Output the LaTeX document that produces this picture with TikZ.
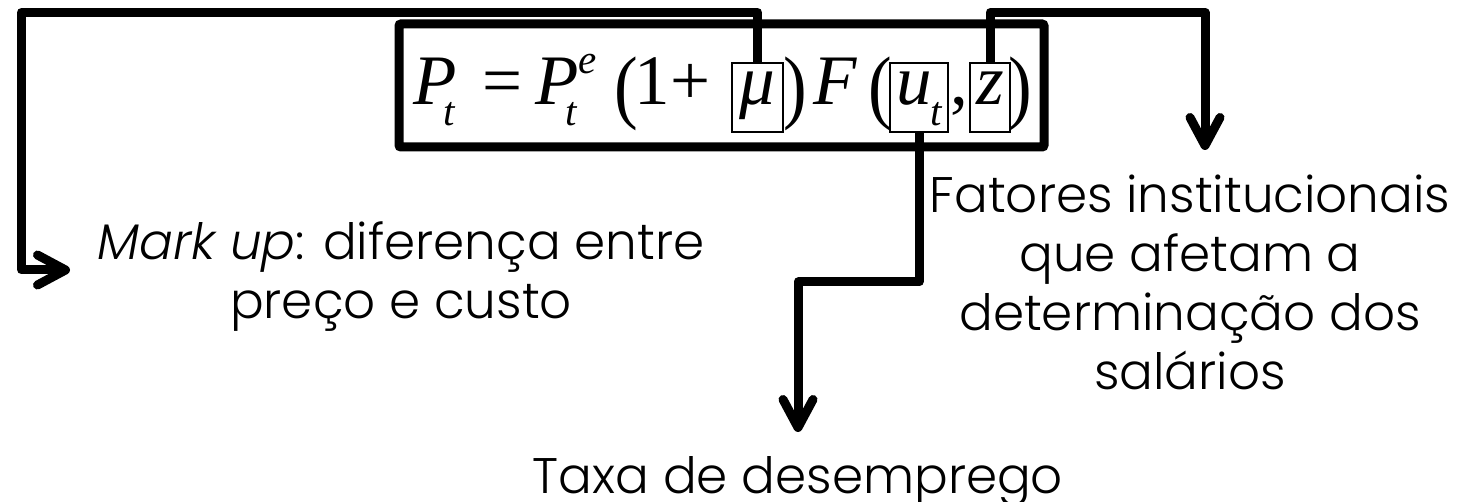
\documentclass[tikz,border=0pt]{standalone}
\usepackage{fontspec}
\setmainfont{Poppins}[UprightFont={* Light}, ItalicFont={* Light Italic}]
\newfontfamily\eqfont{Liberation Serif}
\usetikzlibrary{arrows.meta}

\newcommand{\subt}{\raisebox{-21pt}{\fontsize{41}{41}\selectfont\itshape t}}
\newcommand{\supe}{\raisebox{31pt}{\fontsize{41}{41}\selectfont\itshape e}}
\newcommand{\tallparen}[1]{\raisebox{-9pt}{\scalebox{1}[1.15]{#1}}}

\tikzset{
  conn/.style={line width=9pt, line join=round, line cap=butt},
  tipped/.style={conn, -{Straight Barb[length=28pt,width=30pt,round]}},
  frame/.style={draw, line width=9pt, rounded corners=2pt, inner sep=0pt,
    minimum width=645pt, minimum height=123pt},
  varbox/.style={draw, line width=2.5pt, inner sep=0pt, text height=42pt, text depth=27pt},
  eq/.style={inner sep=0pt, font=\eqfont\fontsize{71}{71}\selectfont},
  txt/.style={align=center, inner sep=0pt, font=\fontsize{50}{59}\selectfont},
}

\begin{document}
\begin{tikzpicture}[x=1pt,y=-1pt]
\useasboundingbox (0,0) rectangle (1477,502);

% frame round the price equation
\node[frame] (frame) at (721.5,85.5) {};

% P_t = P_t^e (1 + mu) F(u_t, z)
\node[eq, anchor=base west] (lhs) at (413,105) {\itshape P\kern-13pt\subt};
\node[eq, anchor=base] (eqsign) at (503,105) {=};
\node[eq, anchor=base west] (pte) at (535,105) {\itshape P\kern-13pt\rlap{\subt}\kern13pt\supe};
\node[eq, anchor=base] (lpa) at (626,105) {\tallparen{(}};
\node[eq, anchor=base west] (onep) at (634,105) {1\kern1pt+};
\node[eq, varbox, minimum width=51pt, anchor=base] (mu) at (757.5,105) {\itshape μ};
\node[eq, anchor=base] (rpa) at (795,105) {\tallparen{)}};
\node[eq, anchor=base west] (F) at (813,105) {\itshape F};
\node[eq, anchor=base] (lpb) at (880,105) {\tallparen{(}};
\node[eq, varbox, minimum width=58pt, anchor=base] (ut) at (919,105) {\itshape u\kern-2pt\subt};
\node[eq, anchor=base] (comma) at (959,105) {,};
\node[eq, varbox, minimum width=40pt, anchor=base] (z) at (990,105) {\itshape z};
\node[eq, anchor=base] (rpb) at (1020,105) {\tallparen{)}};

% captions (the base anchor sits on the last line)
\node[txt, anchor=base] (mk) at (401,319) {\textit{Mark up}: diferença entre\\preço e custo};
\node[txt, anchor=base] (fat) at (1190,389) {Fatores institucionais\\que afetam a\\determinação dos\\salários};
\node[txt, anchor=base] (taxa) at (798,493) {Taxa de desemprego};

% connectors
\coordinate (top) at (0,12.5);
\coordinate (stepy) at (0,282);
\coordinate (mkin) at (70,270);
\coordinate (fatin) at (1205,150);
\coordinate (taxain) at (798,432);

\draw[tipped] (mu.north) -- (mu.north |- top) -| (21.5,270) -- (mkin);
\draw[tipped] (z.north) -- (z.north |- top) -| (fatin);
\draw[tipped] (ut.south) -- (ut.south |- stepy) -| (taxain);
\end{tikzpicture}
\end{document}
